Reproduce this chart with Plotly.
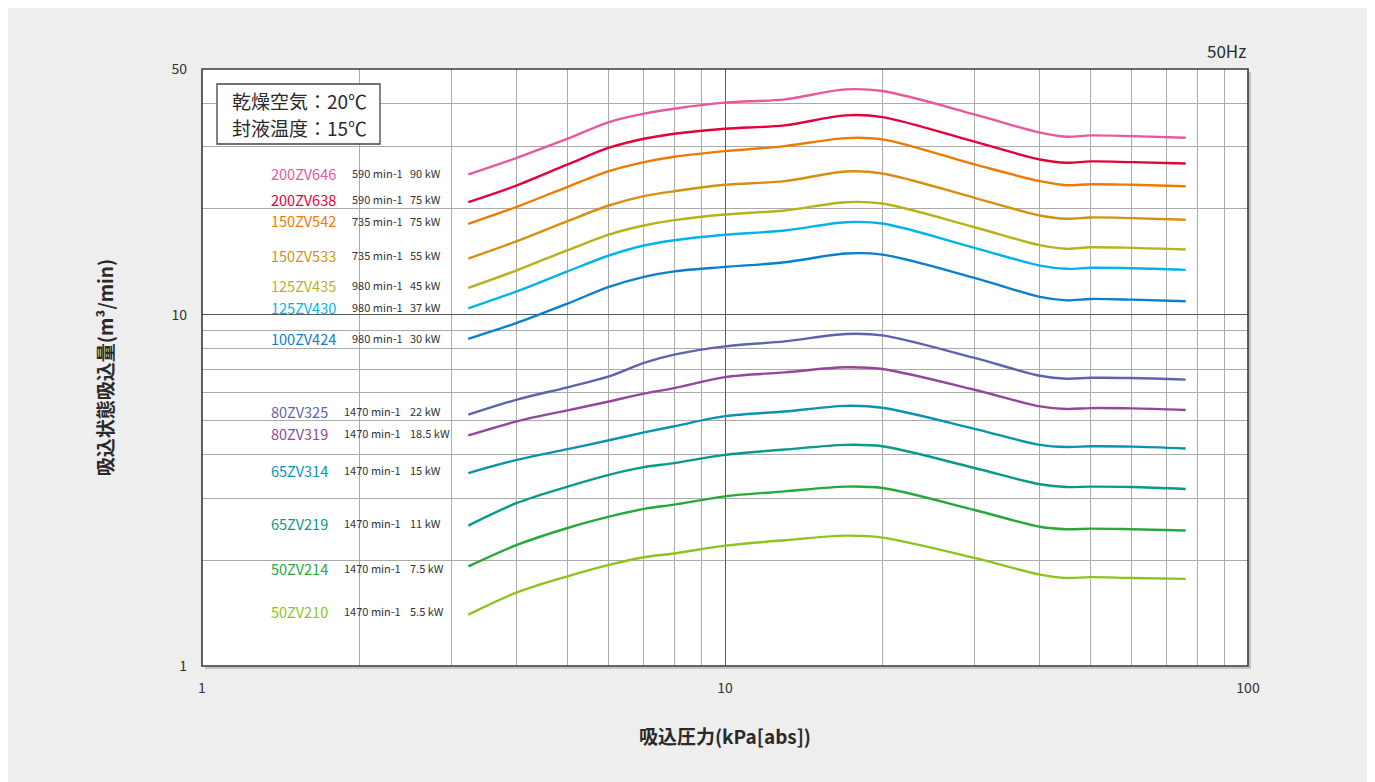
import plotly.graph_objects as go

# ---------------- data ----------------
pressure = [3.23, 4, 5, 6, 7, 8, 10, 13, 17, 20, 30, 40, 45, 50, 60, 76]

models = ["200ZV646", "200ZV638", "150ZV542", "150ZV533", "125ZV435", "125ZV430", "100ZV424",
          "80ZV325", "80ZV319", "65ZV314", "65ZV219", "50ZV214", "50ZV210"]
speeds = ["590 min-1", "590 min-1", "735 min-1", "735 min-1", "980 min-1", "980 min-1", "980 min-1",
          "1470 min-1", "1470 min-1", "1470 min-1", "1470 min-1", "1470 min-1", "1470 min-1"]
powers = ["90 kW", "75 kW", "75 kW", "55 kW", "45 kW", "37 kW", "30 kW",
          "22 kW", "18.5 kW", "15 kW", "11 kW", "7.5 kW", "5.5 kW"]
conditions = ["乾燥空気：20℃", "封液温度：15℃"]

flow_200ZV646 = [25.05, 27.95, 31.66, 35.31, 37.31, 38.55, 40.10, 40.98, 43.75, 43.27, 37.14, 32.94, 32.08, 32.36, 32.21, 31.87]
flow_200ZV638 = [20.89, 23.31, 26.75, 29.85, 31.66, 32.72, 33.81, 34.55, 36.90, 36.49, 31.05, 27.64, 27.05, 27.29, 27.16, 26.93]
flow_150ZV542 = [18.13, 20.27, 23.11, 25.60, 27.16, 28.14, 29.19, 30.17, 31.79, 31.52, 26.75, 23.98, 23.35, 23.50, 23.41, 23.20]
flow_150ZV533 = [14.44, 16.18, 18.45, 20.44, 21.73, 22.45, 23.41, 23.98, 25.55, 25.22, 21.50, 19.15, 18.74, 18.90, 18.82, 18.62]
flow_125ZV435 = [11.91, 13.37, 15.25, 16.90, 17.93, 18.57, 19.27, 19.79, 20.89, 20.71, 17.73, 15.76, 15.39, 15.55, 15.49, 15.32]
flow_125ZV430 = [10.42, 11.65, 13.28, 14.73, 15.73, 16.28, 16.87, 17.35, 18.32, 18.17, 15.49, 13.79, 13.50, 13.59, 13.55, 13.41]
flow_100ZV424 = [8.53, 9.47, 10.75, 11.99, 12.81, 13.28, 13.67, 14.09, 14.92, 14.82, 12.72, 11.23, 10.98, 11.08, 11.03, 10.91]
flow_80ZV325 = [5.19, 5.73, 6.21, 6.67, 7.29, 7.69, 8.12, 8.39, 8.81, 8.73, 7.53, 6.70, 6.57, 6.61, 6.60, 6.53]
flow_80ZV319 = [4.53, 4.97, 5.34, 5.66, 5.96, 6.18, 6.64, 6.85, 7.08, 7.00, 6.11, 5.48, 5.39, 5.42, 5.41, 5.35]
flow_65ZV314 = [3.54, 3.86, 4.14, 4.39, 4.62, 4.81, 5.14, 5.30, 5.50, 5.43, 4.73, 4.26, 4.20, 4.22, 4.21, 4.16]
flow_65ZV219 = [2.51, 2.91, 3.24, 3.50, 3.68, 3.78, 3.99, 4.13, 4.26, 4.22, 3.66, 3.29, 3.23, 3.24, 3.23, 3.19]
flow_50ZV214 = [1.92, 2.21, 2.47, 2.66, 2.80, 2.88, 3.04, 3.14, 3.24, 3.21, 2.78, 2.49, 2.45, 2.46, 2.45, 2.43]
flow_50ZV210 = [1.40, 1.62, 1.80, 1.94, 2.04, 2.09, 2.20, 2.28, 2.35, 2.32, 2.03, 1.82, 1.78, 1.79, 1.78, 1.77]

flows = [flow_200ZV646, flow_200ZV638, flow_150ZV542, flow_150ZV533, flow_125ZV435, flow_125ZV430,
         flow_100ZV424, flow_80ZV325, flow_80ZV319, flow_65ZV314, flow_65ZV219, flow_50ZV214, flow_50ZV210]

x_major = [1, 10, 100]
x_minor = [2, 3, 4, 5, 6, 7, 8, 9, 20, 30, 40, 50, 60, 70, 80, 90]
y_major = [1, 10, 50]
y_minor = [2, 3, 4, 5, 6, 7, 8, 9, 20, 30, 40]

# ---------------- styles / layout ----------------
colors = ["#E8589B", "#E4003A", "#EF7A00", "#D68F10", "#B8B11C", "#00B4EA", "#0A7FCA",
          "#5E63AF", "#944799", "#0A93AE", "#07998A", "#27A83B", "#8EC31F"]

W, H = 1375, 782
OFF = 8  # page body offset
L, R, T, B = 202 - OFF, 1248 - OFF, 69 - OFF, 666 - OFF
PW, PH = R - L, B - T
FONT = "Noto Sans CJK JP"

label_py = [173, 199, 221, 255, 285, 307, 338, 411, 433, 470, 523, 568, 611]
cond_py = [101, 127]

def px2paper_x(px):
    return (px - OFF - L) / PW

def py2paper_y(py):
    return (B - (py - OFF)) / PH

fig = go.Figure()
for name, ys, c in zip(models, flows, colors):
    fig.add_trace(go.Scatter(
        x=pressure, y=ys, mode="lines", name=name,
        line=dict(color=c, width=2.4, shape="spline", smoothing=0.9),
        hoverinfo="skip", showlegend=False))

annotations = []
for i, (m, s, p, c, py) in enumerate(zip(models, speeds, powers, colors, label_py)):
    top = i < 7
    name_right = 338 if top else 330
    speed_left = 350 if top else 342
    yy = py2paper_y(py)
    annotations.append(dict(x=px2paper_x(name_right), y=yy, xref="paper", yref="paper",
                            text=m, showarrow=False, xanchor="right", yanchor="middle",
                            font=dict(family=FONT, size=14.5, color=c)))
    annotations.append(dict(x=px2paper_x(speed_left), y=yy, xref="paper", yref="paper",
                            text=s, showarrow=False, xanchor="left", yanchor="middle",
                            font=dict(family=FONT, size=11, color="#333333")))
    annotations.append(dict(x=px2paper_x(408), y=yy, xref="paper", yref="paper",
                            text=p, showarrow=False, xanchor="left", yanchor="middle",
                            font=dict(family=FONT, size=11, color="#333333")))

# condition box texts
for txt, py in zip(conditions, cond_py):
    annotations.append(dict(x=px2paper_x(230), y=py2paper_y(py), xref="paper", yref="paper",
                            text=txt, showarrow=False, xanchor="left", yanchor="middle",
                            font=dict(family=FONT, size=19, color="#2a2a2a")))
# 50Hz
annotations.append(dict(x=px2paper_x(1248), y=py2paper_y(50), xref="paper", yref="paper",
                        text="50Hz", showarrow=False, xanchor="right", yanchor="middle",
                        font=dict(family=FONT, size=17, color="#2a2a2a")))

sx, sy = 3 / PW, 3 / PH
fig.update_layout(
    width=W, height=H,
    margin=dict(l=L, r=W - R, t=T, b=H - B, pad=0),
    paper_bgcolor="#eeeeee", plot_bgcolor="#ffffff",
    annotations=annotations,
    font=dict(family=FONT, color="#333333"),
    shapes=[
        dict(type="rect", xref="paper", yref="paper", x0=1, x1=1 + sx, y0=-sy, y1=1 - sy,
             fillcolor="#c4c4c4", line=dict(width=0)),
        dict(type="rect", xref="paper", yref="paper", x0=sx, x1=1 + sx, y0=-sy, y1=0,
             fillcolor="#c4c4c4", line=dict(width=0)),
        dict(type="rect", xref="paper", yref="paper", x0=0, x1=1, y0=0, y1=1,
             line=dict(color="#3a3a3a", width=1.6), layer="above"),
        dict(type="rect", xref="paper", yref="paper",
             x0=px2paper_x(217), x1=px2paper_x(380), y0=py2paper_y(144), y1=py2paper_y(84),
             fillcolor="#ffffff", line=dict(color="#444444", width=1.3), layer="above"),
    ],
)

fig.update_xaxes(
    type="log", range=[0, 2],
    tickvals=x_major, ticktext=[str(v) for v in x_major],
    showgrid=True, gridcolor="#5a5a5a", gridwidth=1,
    minor=dict(tickvals=x_minor, showgrid=True, gridcolor="#ababab", gridwidth=1, ticks=""),
    ticks="", ticklabelstandoff=12,
    tickfont=dict(family=FONT, size=14, color="#333333"),
    showline=False, zeroline=False,
    title=dict(text="吸込圧力(kPa[abs])", standoff=34,
               font=dict(family=FONT, size=19, color="#2a2a2a", weight="bold")),
)
fig.update_yaxes(
    type="log", range=[0, 1.69897],
    tickvals=y_major, ticktext=[str(v) for v in y_major],
    showgrid=True, gridcolor="#5a5a5a", gridwidth=1,
    minor=dict(tickvals=y_minor, showgrid=True, gridcolor="#ababab", gridwidth=1, ticks=""),
    ticks="", ticklabelstandoff=14,
    tickfont=dict(family=FONT, size=14, color="#333333"),
    showline=False, zeroline=False,
    title=dict(text="吸込状態吸込量(m³/min)", standoff=52,
               font=dict(family=FONT, size=19, color="#2a2a2a", weight="bold")),
)

fig.write_html("out.html")
